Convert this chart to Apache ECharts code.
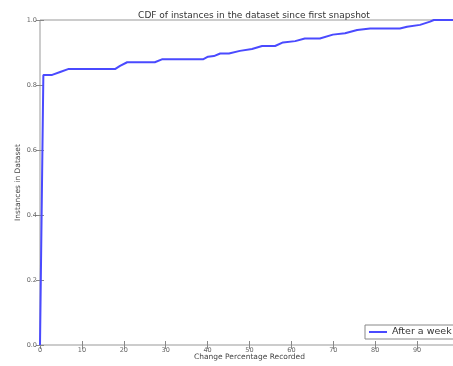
<!DOCTYPE html>
<html>
<head>
<meta charset="utf-8">
<script src="https://cdn.jsdelivr.net/npm/echarts@6/dist/echarts.min.js"></script>
<style>html,body{margin:0;padding:0;background:#fff}#c{width:453px;height:366px}</style>
</head>
<body>
<div id="c"></div>
<script>
var chartTitle = "CDF of instances in the dataset since first snapshot";
var xTitle = "Change Percentage Recorded";
var yTitle = "Instances in Dataset";
var seriesName = "After a week";
var changePct = [0, 0.8, 2.9, 4.8, 6.7, 17.9, 19.1, 20.8, 27.4, 29.1, 38.9, 40.1, 41.5, 43, 45.1, 47.7, 50.6, 53, 56.1, 58, 60.9, 63.2, 66.8, 69.9, 72.8, 75.7, 78.8, 85.9, 87.6, 90.7, 93.1, 94, 100];
var cdfValues = [0, 0.831, 0.831, 0.840, 0.849, 0.849, 0.859, 0.870, 0.870, 0.879, 0.879, 0.887, 0.889, 0.897, 0.897, 0.905, 0.911, 0.920, 0.920, 0.931, 0.935, 0.943, 0.943, 0.955, 0.959, 0.969, 0.974, 0.974, 0.979, 0.985, 0.995, 1.0, 1.0];

var data = changePct.map(function (x, i) { return [x, cdfValues[i]]; });
var font = 'DejaVu Sans';
var chart = echarts.init(document.getElementById('c'), null, {renderer: 'canvas'});
chart.setOption({
  animation: false,
  backgroundColor: '#fff',
  title: {
    text: chartTitle, left: 249, top: 6, textAlign: 'center',
    textStyle: {fontFamily: font, fontSize: 9, fontWeight: 'normal', color: '#333'}
  },
  grid: {left: 40, top: 20, width: 419, height: 325, show: true, borderColor: '#999', borderWidth: 1,
    containLabel: false, outerBoundsMode: 'none'},
  legend: {
    left: 365, top: 325, orient: 'vertical',
    backgroundColor: '#fff', borderColor: '#888', borderWidth: 1, borderRadius: 0,
    padding: [2, 6, 2, 4], itemWidth: 18, itemHeight: 2, itemGap: 4,
    textStyle: {fontFamily: font, fontSize: 9.5, color: '#333'},
    data: [{name: seriesName, icon: 'rect'}]
  },
  xAxis: [{
    type: 'value', min: 0, max: 100, interval: 10,
    name: xTitle, nameLocation: 'middle', nameGap: 8, nameMoveOverlap: false,
    nameTextStyle: {fontFamily: font, fontSize: 7.5, color: '#444'},
    axisLine: {show: false},
    axisTick: {show: true, inside: true, length: 4, lineStyle: {color: '#888'}},
    axisLabel: {fontFamily: font, fontSize: 6.5, color: '#666', margin: 2},
    splitLine: {show: false}
  }, {
    type: 'value', min: 0, max: 100, interval: 10, position: 'top',
    axisLine: {show: false},
    axisTick: {show: true, inside: true, length: 4, lineStyle: {color: '#888'}},
    axisLabel: {show: false}, splitLine: {show: false}
  }],
  yAxis: [{
    type: 'value', min: 0, max: 1, interval: 0.2,
    name: yTitle, nameLocation: 'middle', nameGap: 18, nameRotate: 90, nameMoveOverlap: false,
    nameTextStyle: {fontFamily: font, fontSize: 7.5, color: '#444'},
    axisLine: {show: false},
    axisTick: {show: true, inside: true, length: 4, lineStyle: {color: '#888'}},
    axisLabel: {fontFamily: font, fontSize: 6.5, color: '#666', margin: 3,
      formatter: function (v) { return v.toFixed(1); }},
    splitLine: {show: false}
  }, {
    type: 'value', min: 0, max: 1, interval: 0.2, position: 'right',
    axisLine: {show: false},
    axisTick: {show: true, inside: true, length: 4, lineStyle: {color: '#888'}},
    axisLabel: {show: false}, splitLine: {show: false}
  }],
  series: [{
    name: seriesName, type: 'line', data: data, showSymbol: false, symbol: 'none',
    lineStyle: {color: '#4a4aff', width: 2}, itemStyle: {color: '#4a4aff'}
  }]
});
</script>
</body>
</html>
